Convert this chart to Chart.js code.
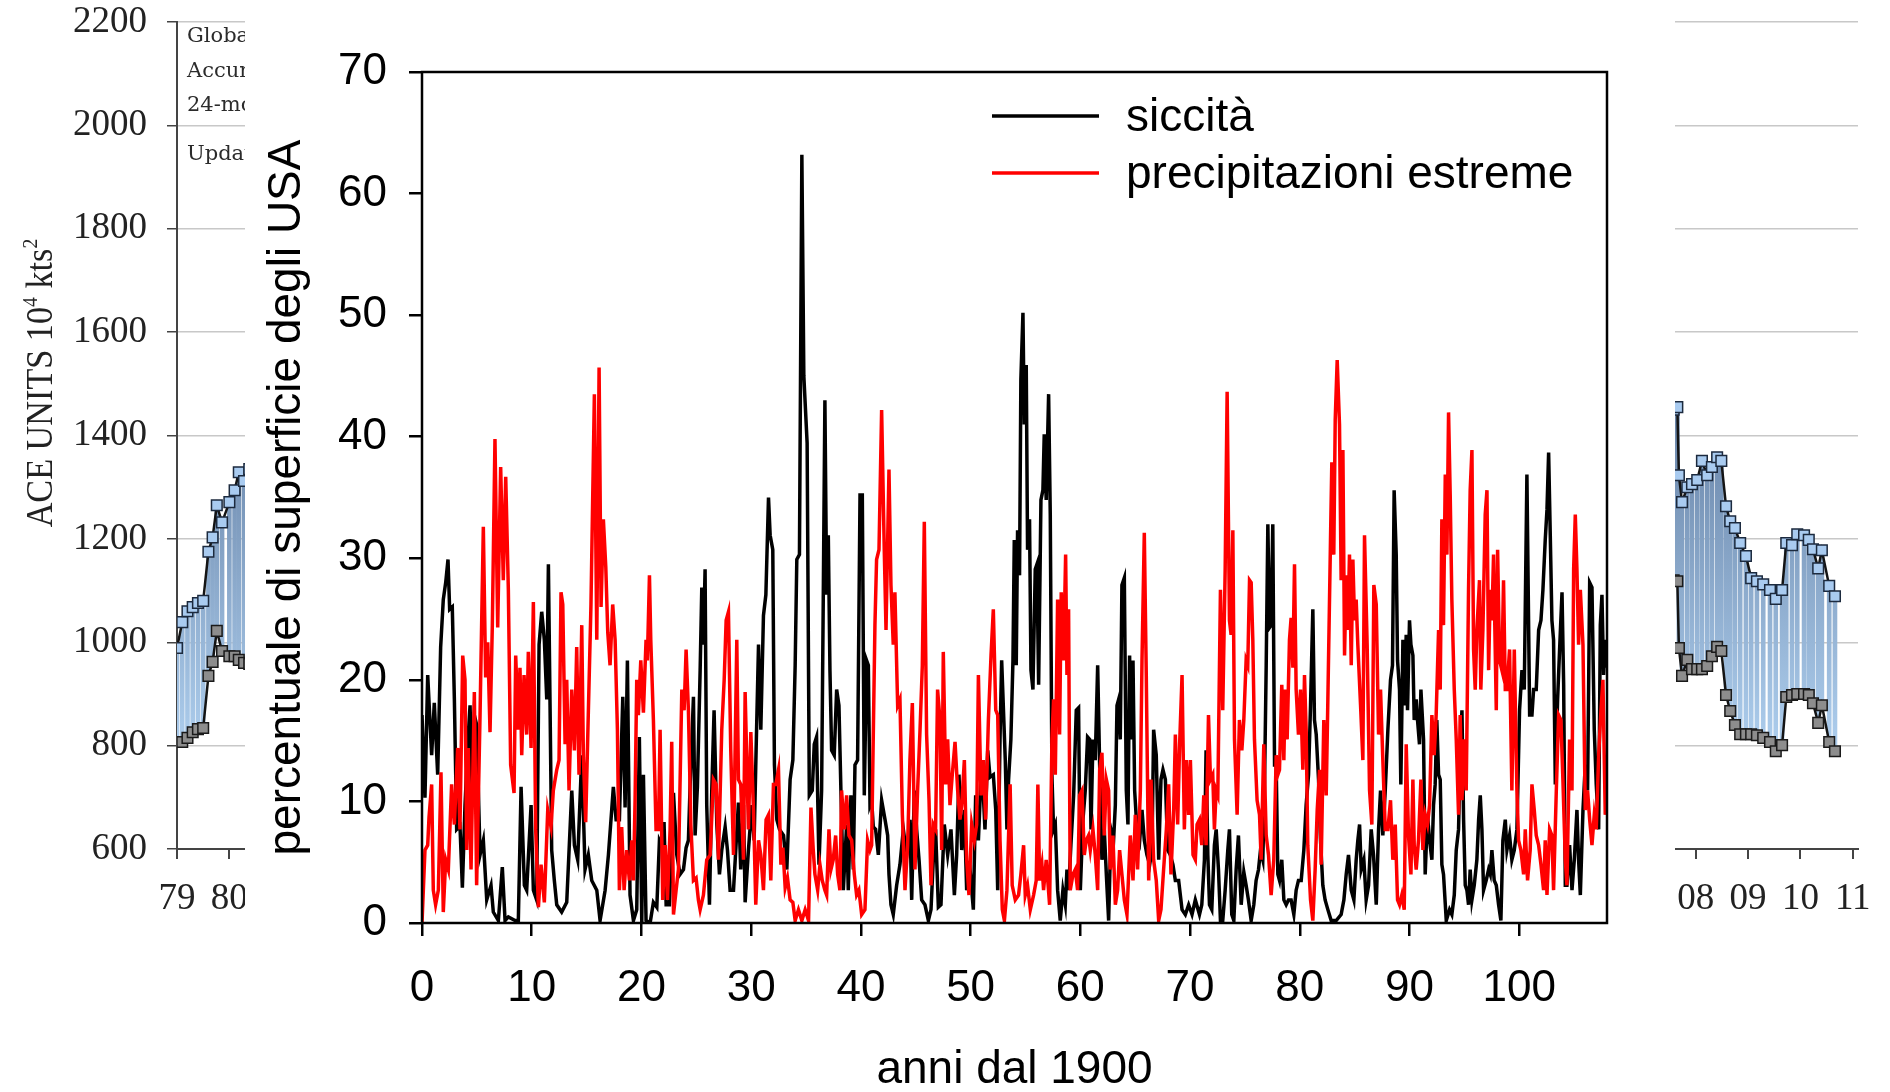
<!DOCTYPE html>
<html>
<head>
<meta charset="utf-8">
<script src="https://cdn.jsdelivr.net/npm/chart.js@4.4.1/dist/chart.umd.min.js"></script>
<style>
  html, body { margin: 0; padding: 0; background: #fff; overflow: hidden; }
  #wrap { position: relative; width: 1890px; height: 1092px; }
  #ace { position: absolute; left: 0; top: 0; }
  #main { position: absolute; left: 245px; top: 0; background: #fff; }
</style>
</head>
<body>
<div id="wrap">
  <canvas id="ace" width="1890" height="1092"></canvas>
  <canvas id="main" width="1430" height="1092"></canvas>
</div>
<script>
// --- grafico principale: anni dal 1900 ---
const droughtYears = [
  0,0.27,0.52,0.88,1.12,1.43,1.7,1.94,2.16,2.37,
  2.52,2.76,2.95,3.16,3.46,3.68,3.92,4.22,4.38,4.59,
  4.77,4.98,5.29,5.59,5.9,6.29,6.5,6.96,7.32,7.57,
  7.87,8.48,8.78,
  9.03,9.33,9.54,9.94,10.15,10.45,10.67,10.91,11.15,11.37,
  11.52,11.67,11.82,12.06,12.28,12.73,13.19,13.65,13.89,14.19,
  14.56,14.86,15.16,15.47,15.93,16.23,16.69,16.99,17.29,17.44,
  17.69,17.99,18.3,18.51,18.72,18.96,19.27,19.57,19.81,20.03,
  20.18,20.42,20.79,21.09,21.4,21.64,21.85,22.06,22.25,22.55,
  22.92,23.22,23.52,23.83,24.07,24.28,24.44,24.74,24.89,25.1,
  25.35,25.5,25.65,25.8,25.95,26.2,26.41,26.62,26.87,27.11,
  27.32,27.63,27.84,28.08,28.39,28.84,29.05,29.3,29.45,29.75,
  30.06,30.27,30.45,30.67,30.88,31.12,31.34,31.58,31.73,31.97,
  32.12,32.34,32.58,32.95,33.25,33.55,33.8,34.01,34.16,34.4,
  34.62,34.8,35.1,35.3,35.57,35.75,35.96,36.18,36.42,36.57,
  36.72,36.88,37.03,37.18,37.33,37.57,37.79,38,38.18,38.4,
  38.7,38.85,39.09,39.31,39.46,39.7,39.92,40.13,40.31,40.52,
  40.68,40.83,40.98,41.13,41.34,41.59,41.89,42.2,42.44,42.56,
  42.74,42.95,43.26,43.56,43.87,44.17,44.47,44.63,44.87,45.08,
  45.3,45.54,45.84,46.15,46.39,46.6,46.81,47.06,47.3,47.6,
  47.91,48.21,48.52,48.73,48.94,49.19,49.43,49.64,49.95,50.25,
  50.46,50.71,51.01,51.31,51.56,51.77,52.07,52.29,52.47,52.68,
  52.83,53.16,53.31,53.46,53.67,53.86,53.98,54.16,54.28,54.46,
  54.58,54.77,54.89,55.07,55.19,55.37,55.5,55.68,55.89,56.04,
  56.2,56.41,56.59,56.71,56.89,57.11,57.26,57.41,57.56,57.72,
  57.93,58.17,58.41,58.63,58.78,58.93,59.14,59.39,59.63,59.84,
  60,60.24,60.45,60.66,60.85,60.97,61.15,61.36,61.58,61.76,
  61.97,62.18,62.37,62.58,62.79,63.03,63.19,63.34,63.49,63.64,
  63.79,64.01,64.19,64.34,64.49,64.61,64.8,64.95,65.16,65.41,
  65.62,65.83,66.07,66.32,66.53,66.68,66.92,67.14,67.35,67.53,
  67.75,67.96,68.2,68.44,68.66,68.96,69.27,69.57,69.87,70.18,
  70.48,70.86,71.07,71.31,71.46,71.62,71.77,71.98,72.22,72.38,
  72.59,72.77,72.98,73.2,73.44,73.59,73.8,73.99,74.2,74.41,
  74.66,74.9,75.11,75.32,75.57,75.81,76.02,76.24,76.42,76.63,
  76.78,76.94,77.09,77.24,77.39,77.54,77.7,77.85,78,78.15,
  78.36,78.55,78.76,78.97,79.21,79.46,79.67,79.88,80.13,80.37,
  80.58,80.8,80.98,81.19,81.34,81.5,81.71,81.89,82.1,82.31,
  82.56,82.86,83.32,83.77,84.02,84.23,84.44,84.69,84.93,85.14,
  85.29,85.45,85.6,85.84,86.05,86.27,86.51,86.72,86.97,87.18,
  87.36,87.57,87.79,88.03,88.27,88.45,88.6,88.79,88.91,89.09,
  89.21,89.4,89.52,89.7,89.82,90,90.13,90.31,90.43,90.61,
  90.73,90.91,91.04,91.28,91.43,91.64,91.83,92.04,92.19,92.34,
  92.49,92.65,92.8,92.95,93.1,93.35,93.65,93.86,94.08,94.26,
  94.47,94.62,94.78,94.93,95.08,95.23,95.38,95.53,95.69,95.9,
  96.14,96.3,96.45,96.6,96.75,96.99,97.21,97.36,97.51,97.72,
  97.91,98.12,98.33,98.51,98.73,98.88,99.12,99.33,99.55,99.79,
  100.03,100.25,100.46,100.7,100.95,101.16,101.31,101.55,101.77,101.98,
  102.16,102.37,102.53,102.68,102.83,102.98,103.13,103.29,103.5,103.68,
  103.9,104.05,104.2,104.35,104.59,104.81,105.02,105.26,105.41,105.57,
  105.81,106.02,106.23,106.42,106.63,106.84,107.02,107.24,107.39,107.54,
  107.69,107.84,108
];
const droughtValues = [
  17.1,10.3,20.4,13.8,18.1,12.2,22.7,26.6,28,29.9,
  25.8,26,18.4,7.7,8,2.9,9.7,15.5,17.9,10.1,
  17.1,16.3,5.6,6.8,1.9,3.1,0.9,0.2,4.6,0.2,
  0.5,0.2,0.2,
  11.2,3.1,2.7,9.7,2.7,1.9,22.9,25.6,23.3,18.4,
  29.5,17.9,6,3.5,1.5,0.9,1.7,10.9,6.4,5.2,
  13.8,4.4,5.6,3.5,2.7,0.2,2.7,5.6,9.3,11.2,
  8.5,8.5,18.6,9.5,21.6,2.3,0.2,1.1,15.3,0,
  12.2,0.2,0,1.7,1.3,6.8,6.4,8.3,1.5,1.5,
  10.7,5.6,4,4.4,6.2,6.8,11.4,18.6,7.2,11.2,
  20.8,27.6,22.9,29.1,9.7,1.5,10.9,17.5,8.1,4,
  6,7.9,6,2.7,2.7,9.9,4.4,9.7,1.7,6,
  9.7,6.8,14.2,22.9,15.9,25.3,27,35,31.9,30.7,
  13,8.5,7.7,7.2,4.4,11.8,13.4,21.2,29.9,30.3,
  63.2,45,39.5,10.5,10.9,14.7,15.3,4.8,10.9,26.6,
  43,27,31.9,20.8,14.2,13.8,19.2,17.9,10.9,2.7,
  8.1,2.7,10.5,4.4,13,13.4,35.2,35.2,10.5,21.6,
  21.2,9.7,10.1,7.9,7.7,5.6,10.1,8.5,7.2,4,
  1.5,0.7,3.1,4.8,7.7,5.6,8.5,1.9,10.9,7.7,
  5.2,1.9,1.5,0.2,1.1,5.2,7.7,1.3,1.5,8.1,
  5.6,7.7,2.3,5.6,12.2,6,9.3,2.7,4.4,1.1,
  10.5,6.8,13.4,7.7,14.2,12,12.2,9.3,2.7,15.1,
  21.6,13.4,7.7,11.8,15.1,21.6,31.5,21.2,32.3,28.6,
  44.7,50.2,41,45.9,30.7,33.2,20.8,19.2,29.1,29.5,
  19.6,34.8,35.6,40.2,34.8,43.5,33.6,12.2,7.7,8.1,
  2.7,0.2,2.7,1.5,4.4,2.7,6.4,10.5,17.5,17.7,
  2.7,8.5,10.9,15.3,15.1,7.7,15.1,13.4,21.2,13,
  5.2,7.7,4,0.2,7.7,6.8,9.7,17.9,18.4,15.1,
  27.8,28.4,10.9,8.1,22,15.1,21.6,10.9,7.7,6.8,
  9.3,6.8,5.6,4.8,6,15.9,13.8,5.2,11.8,12.6,
  11.8,6,5.6,4.8,3.5,3.5,1.1,0.7,1.5,0.7,
  1.9,0.7,1.5,5.2,14.2,5.6,1.5,1.1,6.4,7.7,
  4.4,0.2,0.2,2.7,6,7.7,0.7,0.2,4.4,7.2,
  1.5,4.2,3.1,1.9,0.2,1.5,3.5,4.4,6,5.2,
  10.9,21.2,32.8,24.3,24.5,32.8,13,13,4,3.5,
  5.2,1.9,1.5,1.9,1.9,0.7,2.7,3.5,3.5,6,
  9.7,12.2,17.9,25.8,16.7,15.5,11.8,6.8,3.1,1.9,
  1.1,0.2,0.2,0.7,1.9,4,5.6,2.7,1.9,5.2,
  6.8,8.1,4.4,5.2,1.9,3.1,7.7,5.6,1.5,7.7,
  10.9,7.2,10.9,15.9,20,21.2,35.6,30.3,21.6,19.2,
  11.4,23.3,17.9,23.7,17.5,24.9,22.9,22,16.7,18.4,
  16.7,14.7,19.2,15.1,4,8.9,6.8,5.2,9.7,11.4,
  16.7,12.2,11.8,4.8,4,0.2,1.1,0.7,2.3,6,
  7.7,13.8,17.5,8.5,3.1,2.7,1.5,4.4,1.9,3.1,
  5.2,8.5,10.5,7.7,2.7,3.5,4.4,4,6,3.5,
  3.1,1.5,0.2,6.8,8.5,6,7.2,5.2,6,7.7,
  17.5,20.8,19.2,36.9,17.1,17.1,19.2,19.2,24.1,24.9,
  27.4,31.5,34,38.7,31.9,24.9,23.3,11.4,18.4,22.5,
  27.2,19.6,3.1,3.1,6.4,2.7,5.2,9.3,5.2,2.3,
  9.3,13,10.9,28,27.6,15.9,11.4,7.7,24.5,27,
  20.4,23.3,21
];
const rainYears = [
  0,0.27,0.52,0.64,0.88,1.03,1.24,1.49,1.73,1.94,
  2.16,2.4,2.7,2.95,3.25,3.46,3.71,3.92,4.07,4.22,
  4.47,4.77,4.98,5.29,5.59,5.8,5.99,6.2,6.41,6.65,
  6.9,7.17,7.41,7.63,7.87,8.08,8.39,8.54,8.78,8.93,
  9.09,9.3,9.54,9.69,9.94,10.15,10.36,10.61,10.85,11.15,
  11.46,11.76,11.97,12.28,12.49,12.67,12.83,13.04,13.19,13.4,
  13.65,13.89,14.1,14.31,14.56,14.71,14.92,15.1,15.4,15.71,
  15.93,16.14,16.32,16.53,16.75,16.93,17.14,17.38,17.6,17.81,
  17.99,18.2,18.42,18.66,18.9,19.12,19.27,19.42,19.57,19.72,
  19.94,20.18,20.42,20.54,20.73,20.85,21.09,21.33,21.55,21.7,
  21.94,22.16,22.37,22.61,22.76,22.92,23.16,23.37,23.68,23.89,
  24.07,24.28,24.5,24.74,24.98,25.19,25.35,25.65,25.95,26.26,
  26.56,26.81,27.02,27.32,27.54,27.72,27.93,28.14,28.39,28.69,
  28.84,29.05,29.3,29.45,29.75,29.97,30.21,30.42,30.67,30.88,
  31.12,31.36,31.58,31.79,32.03,32.25,32.49,32.71,32.89,33.1,
  33.31,33.55,33.8,34.01,34.31,34.62,34.92,35.23,35.45,35.66,
  35.81,36.06,36.27,36.48,36.72,36.88,37.09,37.27,37.48,37.7,
  37.88,38.09,38.24,38.49,38.7,38.91,39.16,39.4,39.61,39.82,
  40.07,40.37,40.61,40.83,40.98,41.28,41.43,41.65,41.89,42.13,
  42.29,42.56,42.74,42.95,43.1,43.35,43.56,43.78,44.02,44.26,
  44.47,44.69,44.93,45.17,45.39,45.6,45.78,45.99,46.21,46.39,
  46.6,46.81,46.99,47.21,47.36,47.51,47.73,47.91,48.12,48.33,
  48.58,48.82,49.03,49.19,49.43,49.64,49.85,50.1,50.34,50.55,
  50.71,50.95,51.16,51.37,51.62,51.86,52.07,52.29,52.47,52.68,
  52.89,53.08,53.31,53.6,53.79,54.07,54.37,54.58,54.83,54.98,
  55.19,55.44,55.74,55.98,56.13,56.29,56.5,56.65,56.89,57.2,
  57.41,57.56,57.72,57.93,58.11,58.26,58.47,58.66,58.78,58.93,
  59.08,59.33,59.54,59.75,59.93,60.15,60.36,60.54,60.75,60.91,
  61.15,61.36,61.58,61.76,61.97,62.18,62.37,62.58,62.73,62.97,
  63.19,63.4,63.58,63.79,64.01,64.25,64.55,64.8,65.01,65.22,
  65.47,65.62,65.83,66.01,66.23,66.44,66.68,66.92,67.14,67.35,
  67.59,67.84,68.05,68.26,68.51,68.66,68.87,69.05,69.27,69.48,
  69.66,69.87,70.03,70.27,70.48,70.64,70.86,71.07,71.25,71.46,
  71.68,71.86,72.07,72.22,72.38,72.53,72.77,72.98,73.2,73.38,
  73.59,73.74,73.9,74.05,74.29,74.5,74.72,74.9,75.11,75.26,
  75.42,75.57,75.72,75.87,76.11,76.33,76.48,76.72,76.94,77.15,
  77.39,77.63,77.85,78,78.15,78.36,78.55,78.67,78.85,79.06,
  79.21,79.37,79.52,79.67,79.88,80.07,80.28,80.43,80.58,80.73,
  80.98,81.19,81.4,81.59,81.8,81.95,82.19,82.41,82.56,82.8,
  82.92,83.1,83.23,83.41,83.62,83.77,83.93,84.08,84.23,84.38,
  84.53,84.69,84.84,84.99,85.14,85.29,85.54,85.75,85.9,86.14,
  86.36,86.57,86.75,86.97,87.18,87.36,87.57,87.79,88.03,88.27,
  88.48,88.7,88.91,89.09,89.3,89.52,89.7,89.91,90.13,90.31,
  90.43,90.61,90.82,91.04,91.22,91.43,91.64,91.83,92.04,92.25,
  92.43,92.65,92.8,92.95,93.1,93.26,93.41,93.56,93.71,93.86,
  94.08,94.26,94.47,94.62,94.78,94.99,95.17,95.38,95.53,95.69,
  95.84,95.99,96.14,96.38,96.5,96.69,96.9,97.06,97.21,97.36,
  97.51,97.66,97.91,98.03,98.21,98.42,98.57,98.73,98.88,99.12,
  99.33,99.55,99.79,99.94,100.15,100.4,100.55,100.76,101,101.16,
  101.37,101.55,101.77,101.98,102.22,102.37,102.53,102.77,102.98,103.13,
  103.38,103.59,103.8,103.98,104.2,104.35,104.59,104.81,104.96,105.11,
  105.26,105.41,105.57,105.81,106.02,106.23,106.42,106.63,106.84,107.02,
  107.24,107.45,107.63,107.84,108
];
const rainValues = [
  0,6,6.4,8.7,11.4,2.7,1.5,2.7,12.4,0.9,
  5.2,4.4,11.4,8.1,14.4,7.7,22,20,6,14.4,
  4.4,19,3.1,17.1,32.6,20.2,23.1,15.7,24.5,39.8,
  24.3,37.5,28.2,36.7,27.4,13,10.7,22,15.9,21,
  13.8,20.4,15.5,22.3,14.4,26.4,7.7,1.3,4.8,1.7,
  9.3,7.9,10.9,12.6,13.4,27.2,26.2,14.7,20,10.9,
  19.2,14.2,22.7,12.2,24.5,13.6,8.3,15.1,26.2,43.5,
  23.3,45.7,26,33.2,29.3,23.9,21.2,26.2,23.3,15.9,
  2.7,7.9,2.7,6,3.5,6.8,3.5,10.1,20,17.1,
  21.6,17.3,23.3,21.6,28.6,23.3,16.7,7.7,7.7,15.9,
  1.9,6.4,1.9,7.7,14.9,0.7,2.7,4.4,19.2,17.5,
  22.5,17.5,8.1,3.5,3.7,1.9,1.1,2.3,5.2,5.6,
  11.8,11.4,5.2,15.9,20,24.9,25.6,14.2,5.6,23.3,
  11.8,11.4,5.2,19,7.7,15.7,9.3,1.5,6.8,5.6,
  2.7,8.5,8.9,3.5,11.4,11.4,12.6,4.8,6.2,2.9,
  3.7,1.9,1.7,0.2,1.1,0.2,1.1,0.2,9.5,6,
  4,2.7,4.8,3.5,2.7,2.3,7.7,4.4,5.2,7.2,
  4,2.7,10.9,7.7,10.5,7.2,6.8,4,2.3,2.7,
  0.7,1.1,6.8,6,6.4,24.5,29.9,30.7,42.2,30.7,
  24.1,37.3,27.8,22.9,27.2,17.9,18.4,8.9,2.7,6.4,
  13.4,18.1,4.4,10.9,15.9,21.2,33,15.5,10.1,3.1,
  8.1,7.7,19.2,16.7,6,22.3,11.4,15.1,9.7,12.2,
  14.9,10.9,8.5,9.7,13.4,5.2,2.3,8.1,6.8,8.1,
  20.4,10.5,13.4,8.5,16.7,22,25.8,17.5,17.1,6.8,
  1.1,0.2,2.7,11.4,3.1,1.9,2.3,4,6.4,2.3,
  3.1,1.1,2.3,3.5,11.4,3.5,4.8,2.7,5.2,1.5,
  15.1,18.4,12.2,26.6,15.5,27.2,21.6,30.3,20.4,25.8,
  2.7,4,4.4,2.7,10.5,10.9,5.6,6.8,7.2,6,
  7.7,5.6,2.7,12.6,14,7.2,11.8,10.9,4.4,7.2,
  1.5,2.7,6,4,1.9,0.7,7.2,3.5,8.9,4.4,
  10.9,21.6,32.1,20.4,3.5,11.8,5.2,3.5,0.2,1.1,
  4.4,7.7,11.4,4,9.3,15.5,8.1,14.7,20.4,7.7,
  13.4,8.9,13.4,5.6,5.2,8.1,8.5,6.4,10.5,6.4,
  17.1,11.8,12.2,7.7,10.9,10.5,27.4,17.5,29.1,43.7,
  24.9,23.7,32.3,15.1,8.9,16.7,14.2,16.7,21.6,21.2,
  28.2,28,23.3,15.1,10.1,8.9,5.2,14.7,7.2,5.6,
  2.3,5.2,13.8,12.2,12.6,19.6,13.4,19.2,15.1,23.3,
  25.1,21,29.5,19.2,15.5,19.2,12.6,20.4,15.9,6.4,
  1.9,0.2,4.4,9.3,12.6,4.8,16.7,10.5,18.4,31.5,
  37.9,30.3,41.4,46.3,41,28.2,38.9,22,28.6,24.1,
  30.3,21.2,29.9,24.9,26.6,22.9,17.9,13.4,31.9,22.9,
  10.9,8.1,27.8,26.2,15.5,19.2,13.4,7.7,7.7,10.1,
  5.2,8.1,1.9,1.5,2.3,1.1,14.7,7.2,4,11.8,
  6.4,4.4,6.8,11.8,6,8.9,8.1,9.7,17.1,13.8,
  17.1,24.1,19.2,33.2,24.5,36.9,30.3,42,35.2,26.6,
  19.2,15.1,8.9,17.1,10.1,15.1,10.9,27.4,35.6,38.9,
  22.5,19.2,24.1,28.2,19.2,24.1,33.6,35.6,20.8,27.4,
  24.9,30.3,17.5,30.7,21.6,20.8,28.2,19.2,19.2,22.5,
  10.9,22.5,10.9,6.8,6,4,7.7,3.5,6,11.4,
  9.3,7.2,6.4,4.8,2.7,6.8,2.3,7.7,7.2,2.7,
  10.9,17.1,16.7,11.8,5.2,3.1,15.1,10.9,29.1,33.6,
  29.1,22.9,27.4,22.9,9.3,10.9,8.5,6.4,8.9,7.7,
  13.8,17.5,20,8.9,10.9
];
const xTickStep = 10;
const yTickStep = 10;

// --- grafico di sfondo (ACE, 1979-2011) ---
const aceYears = [
  1979.0,1979.1,1979.2,1979.3,1979.4,1979.5,1979.6,1979.68,1979.76,1979.86,
  1980.0,1980.1,1980.18,1980.28,1980.38,
  2007.58,2007.65,2007.68,2007.74,2007.84,2007.93,2008.03,2008.12,2008.22,2008.31,
  2008.41,2008.49,2008.58,2008.66,2008.75,2008.85,2008.96,2009.06,2009.17,2009.29,
  2009.42,2009.53,2009.65,2009.73,2009.84,2009.94,2010.07,2010.16,2010.24,2010.34,
  2010.41,2010.55,2010.66
];
const aceHigh = [
  989,1039,1060,1068,1076,1080,1175,1203,1265,1232,
  1271,1294,1329,1312,1335,
  1450,1455,1323,1271,1300,1306,1314,1351,1323,1339,
  1358,1351,1263,1234,1221,1192,1167,1124,1118,1112,
  1101,1084,1101,1192,1188,1209,1207,1198,1180,1143,
  1178,1109,1089
];
const aceLow = [
  807,807,815,826,832,834,935,962,1022,983,
  973,973,966,960,958,
  1120,1118,989,935,966,948,948,948,954,973,
  991,983,898,867,840,822,822,822,820,815,
  807,789,801,894,898,900,900,898,882,844,
  878,807,789
];
const aceNotes = ['Global', 'Accumulated', '24-month', 'Updated'];

const sans = '"Liberation Sans", Arial, Helvetica, sans-serif';
const serif = '"Liberation Serif", "Times New Roman", serif';

// testo del riquadro e titolo asse del grafico ACE
const aceText = {
  id: 'aceText',
  afterDraw(chart) {
    const c = chart.ctx;
    c.save();
    c.fillStyle = '#2b2b2b';
    c.font = '21px "DejaVu Serif", serif';
    c.textBaseline = 'middle';
    const rows = [37, 72, 106, 155];
    aceNotes.forEach((t, i) => c.fillText(t, 187, rows[i]));

    c.translate(39, 383);
    c.rotate(-Math.PI / 2);
    c.scale(0.9, 1);
    c.fillStyle = '#222';
    c.textBaseline = 'alphabetic';
    const big = '38px "Liberation Serif", serif';
    const small = '22px "Liberation Serif", serif';
    const parts = [['ACE UNITS 10', big, 0], ['4', small, -15], [' kts', big, 0], ['2', small, -15]];
    let w = 0;
    parts.forEach(p => { c.font = p[1]; w += c.measureText(p[0]).width; });
    let x = -w / 2;
    parts.forEach(p => { c.font = p[1]; c.fillText(p[0], x, 13 + p[2]); x += c.measureText(p[0]).width; });
    c.restore();
  }
};

new Chart(document.getElementById('ace'), {
  type: 'line',
  data: {
    datasets: [
      {
        type: 'bar',
        data: aceYears.map((x, i) => ({ x: x, y: [aceLow[i], aceHigh[i]] })),
        backgroundColor: function(ctx) {
          const g = ctx.chart.ctx.createLinearGradient(0, 420, 0, 790);
          g.addColorStop(0, '#6a86aa');
          g.addColorStop(1, '#b6d7f6');
          return g;
        },
        barThickness: 4,
        order: 3
      },
      {
        data: aceYears.map((x, i) => ({ x: x, y: aceLow[i] })),
        borderColor: '#141414', borderWidth: 2.5,
        pointStyle: 'rect', pointRadius: 7.5,
        pointBackgroundColor: '#8d8d8d', pointBorderColor: '#1a1a1a', pointBorderWidth: 1.5,
        order: 2
      },
      {
        data: aceYears.map((x, i) => ({ x: x, y: aceHigh[i] })),
        borderColor: '#141414', borderWidth: 2.5,
        pointStyle: 'rect', pointRadius: 7.5,
        pointBackgroundColor: '#a9cbf0', pointBorderColor: '#1c2a3e', pointBorderWidth: 1.5,
        order: 1
      }
    ]
  },
  options: {
    responsive: false,
    animation: false,
    layout: { padding: { top: 22, right: 32, left: 0, bottom: 0 } },
    plugins: { legend: { display: false }, tooltip: { enabled: false } },
    scales: {
      x: {
        type: 'linear', min: 1979, max: 2011.1, offset: false,
        ticks: {
          stepSize: 1, includeBounds: false, autoSkip: false, maxRotation: 0,
          padding: 18, color: '#222', font: { family: serif, size: 37 },
          callback: v => String(Math.round(v) % 100).padStart(2, '0')
        },
        grid: { drawOnChartArea: false, tickLength: 10, tickColor: '#444', lineWidth: 2, offset: false },
        border: { color: '#444', width: 2 },
        afterFit: s => { s.height = 243; }
      },
      y: {
        min: 600, max: 2200,
        ticks: {
          stepSize: 200, padding: 20, color: '#222', font: { family: serif, size: 37, lineHeight: 0.1 },
          callback: v => String(v)
        },
        grid: {
          color: c => c.tick && c.tick.value === 600 ? 'rgba(0,0,0,0)' : '#c8c8c8',
          lineWidth: 1.5, tickLength: 10, tickColor: '#444'
        },
        border: { color: '#444', width: 2 },
        afterFit: s => { s.width = 177; }
      }
    }
  },
  plugins: [aceText]
});

// cornice nera attorno all'area del grafico
const frame = {
  id: 'frame',
  afterDatasetsDraw(chart) {
    const a = chart.chartArea;
    const c = chart.ctx;
    c.save();
    c.strokeStyle = '#000';
    c.lineWidth = 2.5;
    c.strokeRect(a.left, a.top, a.right - a.left, a.bottom - a.top);
    c.restore();
  }
};

// legenda dentro l'area del grafico
const legendBox = {
  id: 'legendBox',
  afterDraw(chart) {
    const c = chart.ctx;
    const rows = [116, 173];
    chart.data.datasets.forEach((ds, i) => {
      const y = rows[i];
      c.save();
      c.strokeStyle = ds.borderColor;
      c.lineWidth = 3.5;
      c.beginPath();
      c.moveTo(747, y);
      c.lineTo(854, y);
      c.stroke();
      c.fillStyle = '#000';
      c.font = '46px ' + sans;
      c.textBaseline = 'middle';
      c.fillText(ds.label, 881, y + 2);
      c.restore();
    });
  }
};

new Chart(document.getElementById('main'), {
  type: 'line',
  data: {
    datasets: [
      {
        label: 'siccità',
        data: droughtYears.map((x, i) => ({ x: x, y: droughtValues[i] })),
        borderColor: '#000000', borderWidth: 3.5, pointRadius: 0, tension: 0,
        order: 1
      },
      {
        label: 'precipitazioni estreme',
        data: rainYears.map((x, i) => ({ x: x, y: rainValues[i] })),
        borderColor: '#ff0000', borderWidth: 3.5, pointRadius: 0, tension: 0,
        order: 0
      }
    ]
  },
  options: {
    responsive: false,
    animation: false,
    layout: { padding: { top: 72, right: 68, left: 0, bottom: 0 } },
    plugins: { legend: { display: false }, tooltip: { enabled: false } },
    scales: {
      x: {
        type: 'linear', min: 0, max: 108,
        ticks: {
          stepSize: xTickStep, includeBounds: false, maxRotation: 0, autoSkip: false,
          padding: 26, color: '#000', font: { family: sans, size: 44 }
        },
        grid: { drawOnChartArea: false, tickLength: 13, color: '#000', lineWidth: 2.5 },
        border: { display: false },
        title: {
          display: true, text: 'anni dal 1900', color: '#000',
          font: { family: sans, size: 46 }, padding: { top: 0, bottom: -6 }
        },
        afterFit: s => { s.height = 169; }
      },
      y: {
        min: 0, max: 70,
        ticks: { stepSize: yTickStep, padding: 22, color: '#000', font: { family: sans, size: 44 } },
        grid: { drawOnChartArea: false, tickLength: 13, color: '#000', lineWidth: 2.5 },
        border: { display: false },
        title: {
          display: true, text: 'percentuale di superficie degli USA', color: '#000',
          font: { family: sans, size: 46 }, padding: { top: 15, bottom: 0 }
        },
        afterFit: s => { s.width = 177; }
      }
    }
  },
  plugins: [frame, legendBox]
});
</script>
</body>
</html>
